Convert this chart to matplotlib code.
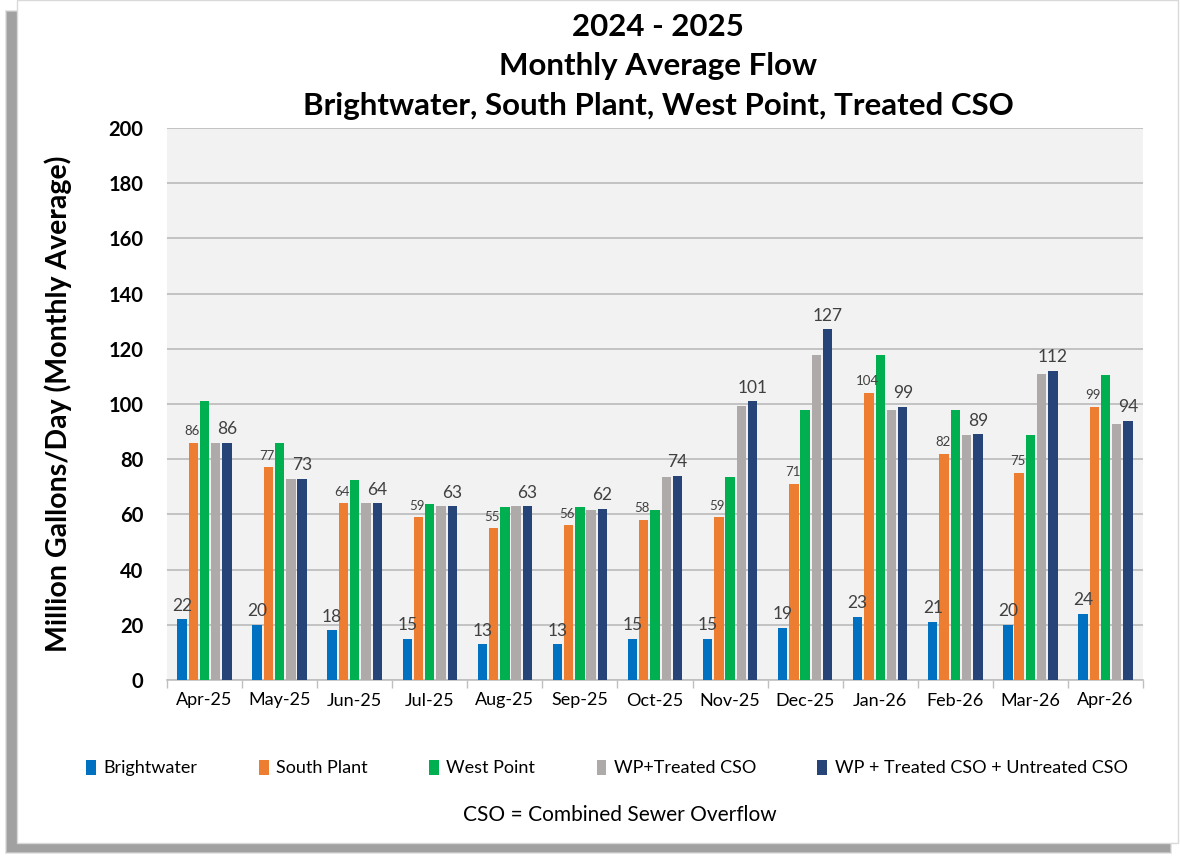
import matplotlib
matplotlib.use("Agg")
import matplotlib.pyplot as plt
from matplotlib.patches import Rectangle
import numpy as np

plt.rcParams['font.family'] = ['Lato', 'DejaVu Sans']

months = ["Apr-25", "May-25", "Jun-25", "Jul-25", "Aug-25", "Sep-25", "Oct-25",
          "Nov-25", "Dec-25", "Jan-26", "Feb-26", "Mar-26", "Apr-26"]
brightwater = [22, 20, 18, 15, 13, 13, 15, 15, 19, 23, 21, 20, 24]
south_plant = [86, 77, 64, 59, 55, 56, 58, 59, 71, 104, 82, 75, 99]
west_point = [101, 86, 72.5, 63.8, 62.7, 62.7, 61.5, 73.5, 98, 117.6, 97.7, 88.6, 110.6]
wp_treated = [86, 73, 64, 63, 63, 61.5, 73.7, 99.3, 117.9, 97.8, 88.6, 111, 92.9]
wp_total = [86, 73, 64, 63, 63, 62, 74, 101, 127, 99, 89, 112, 94]
series_names = ["Brightwater", "South Plant", "West Point", "WP+Treated CSO",
                "WP + Treated CSO + Untreated CSO"]
colors = ["#0070c0", "#ed7d31", "#00b050", "#aeaaaa", "#264478"]
yticks = [0, 20, 40, 60, 80, 100, 120, 140, 160, 180, 200]

W, H = 1180, 860
fig = plt.figure(figsize=(W / 100, H / 100), dpi=100)
fig.patch.set_facecolor("white")

# card shadow and card
def px_rect(x0, y0, x1, y1, **kw):
    return Rectangle((x0 / W, 1 - y1 / H), (x1 - x0) / W, (y1 - y0) / H,
                     transform=fig.transFigure, **kw)

for i, a in enumerate([0.25, 0.45, 0.8]):
    d = 2 - i
    fig.patches.append(px_rect(7 - d, 12 - d, 1170 + d, 852 + d, facecolor="#999999",
                               edgecolor="none", alpha=a, zorder=0))
fig.patches.append(px_rect(17, 0, 1178, 843, facecolor="white", edgecolor="#d9d9d9",
                           linewidth=1.0, zorder=1))

ax = fig.add_axes([167 / W, 1 - 680 / H, (1143 - 167) / W, (680 - 128) / H], zorder=2)
ax.set_facecolor("#f2f2f2")

x = np.arange(len(months))
series = [brightwater, south_plant, west_point, wp_treated, wp_total]
offsets = [-0.3, -0.15, 0.0, 0.15, 0.3]
bw = 0.125
bars = []
for vals, off, c, name in zip(series, offsets, colors, series_names):
    b = ax.bar(x + off, vals, width=bw, color=c, label=name, zorder=3)
    bars.append(b)

lab_color = "#404040"
for i in range(len(months)):
    ax.annotate(f"{brightwater[i]:.0f}", (x[i] + offsets[0], brightwater[i]),
                xytext=(0, 4), textcoords="offset points", ha="center", va="bottom",
                fontsize=12.5, color=lab_color, zorder=4)
    ax.annotate(f"{south_plant[i]:.0f}", (x[i] + offsets[1], south_plant[i]),
                xytext=(-1, 4), textcoords="offset points", ha="center", va="bottom",
                fontsize=9.5, color=lab_color, zorder=4)
    ax.annotate(f"{wp_total[i]:.0f}", (x[i] + offsets[4], wp_total[i]),
                xytext=(0, 4), textcoords="offset points", ha="center", va="bottom",
                fontsize=12.5, color=lab_color, zorder=4)

ax.set_xlim(-0.5, len(months) - 0.5)
ax.set_ylim(0, 200)
ax.set_yticks(yticks)
ax.set_yticklabels([str(v) for v in yticks], fontsize=14.5, fontweight="bold")
ax.grid(axis="y", color="#bfbfbf", linewidth=1.3, zorder=0)
ax.set_axisbelow(True)
ax.tick_params(axis="y", length=0, pad=17)

ax.set_xticks(x)
ax.set_xticklabels(months, fontsize=13)
ax.set_xticks(np.arange(-0.5, len(months)), minor=True)
ax.tick_params(axis="x", which="major", length=0, pad=9)
ax.tick_params(axis="x", which="minor", length=6, color="#bfbfbf", width=1)

for s in ["top", "right", "left"]:
    ax.spines[s].set_visible(False)
ax.spines["bottom"].set_color("#bfbfbf")
ax.spines["bottom"].set_linewidth(1.2)

ax.set_ylabel("Million Gallons/Day (Monthly Average)", fontsize=20.5, fontweight="bold",
              labelpad=26)

fig.text(658 / W, 1 - 66 / H,
         "2024 - 2025\nMonthly Average Flow\nBrightwater, South Plant, West Point, Treated CSO",
         ha="center", va="center", fontsize=22.5, fontweight="bold", linespacing=1.5,
         zorder=5)

leg = fig.legend(handles=bars, labels=series_names, loc="center",
                 bbox_to_anchor=(607 / W, 1 - 768 / H), ncol=5, frameon=False,
                 fontsize=13, handlelength=0.55, handleheight=0.9, handletextpad=0.4,
                 columnspacing=3.4)
leg.set_zorder(5)

fig.text(620 / W, 1 - 815 / H, "CSO = Combined Sewer Overflow", ha="center",
         va="center", fontsize=15, zorder=5)

fig.savefig("out.png", dpi=100)
